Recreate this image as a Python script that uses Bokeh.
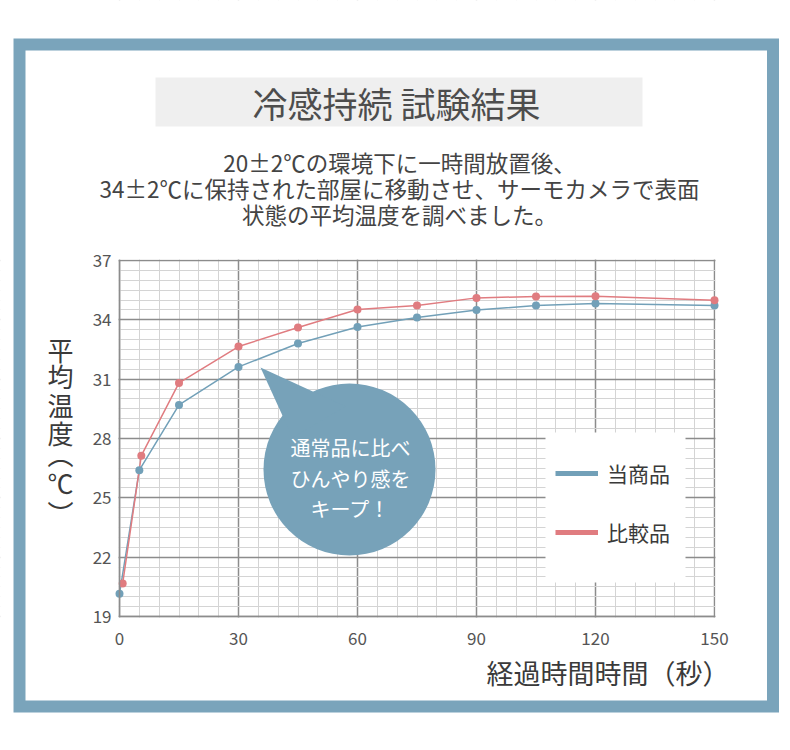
from bokeh.plotting import figure
from bokeh.models import (Range1d, FixedTicker, BoxAnnotation, Label, Legend, LegendItem,
                          Grid, LinearAxis)
from bokeh.embed import file_html
from bokeh.resources import INLINE

# ---------------- data ----------------
TIME_CURRENT = [0, 5, 15, 30, 45, 60, 75, 90, 105, 120, 150]
TEMP_CURRENT = [20.15, 26.4, 29.7, 31.62, 32.8, 33.64, 34.12, 34.5, 34.72, 34.82, 34.72]
TIME_COMPARE = [0.8, 5.5, 15, 30, 45, 60, 75, 90, 105, 120, 150]
TEMP_COMPARE = [20.67, 27.13, 30.81, 32.65, 33.61, 34.52, 34.72, 35.11, 35.18, 35.19, 34.99]
SERIES_NAMES = ["当商品", "比較品"]
X_TICKS = [0, 30, 60, 90, 120, 150]
Y_TICKS = [19, 22, 25, 28, 31, 34, 37]
X_MINOR_STEP = 5
Y_MINOR_STEP = 0.5

TITLE = "冷感持続 試験結果"
SUBTITLE = ["20±2℃の環境下に一時間放置後、",
            "34±2℃に保持された部屋に移動させ、サーモカメラで表面",
            "状態の平均温度を調べました。"]
CALLOUT = ["通常品に比べ", "ひんやり感を", "キープ！"]
Y_LABEL_CHARS = ["平", "均", "温", "度", "︵", "℃", "︶"]
X_LABEL = "経過時間時間（秒）"

FONT = "Noto Sans CJK JP"
BLUE = "#72a0b8"
RED = "#e07c80"
FRAME_BLUE = "#7aa4bb"
CALLOUT_BLUE = "#77a2b9"
GRID_DARK = "#8c8c8c"
GRID_LIGHT = "#d4d4d4"
TEXT = "#3a3a3a"

W, H = 790, 750
# chart region in canvas pixels
FL, FR, FT, FB = 119, 714, 260, 616
X0, X1 = X_TICKS[0], X_TICKS[-1]
Y0, Y1 = Y_TICKS[0], Y_TICKS[-1]
kx = (X1 - X0) / (FR - FL)
ky = (Y1 - Y0) / (FB - FT)
XS, XE = X0 - FL * kx, X1 + (W - FR) * kx
YS, YE = Y0 - (H - FB) * ky, Y1 + FT * ky

p = figure(width=W, height=H, output_backend="svg", toolbar_location=None, title=None,
           x_range=Range1d(XS, XE), y_range=Range1d(YS, YE),
           x_axis_type=None, y_axis_type=None,
           min_border=0, min_border_left=0, min_border_right=0,
           min_border_top=0, min_border_bottom=0)
p.background_fill_color = "white"
p.border_fill_color = "white"
p.outline_line_color = None


def dx(px):
    return XS + px * kx


def dy(py):
    return YE - py * ky


def frange(a, b, step):
    n = int(round((b - a) / step))
    return [a + i * step for i in range(n + 1)]


x_minor = [v for v in frange(X0, X1, X_MINOR_STEP) if v not in X_TICKS]
y_minor = [v for v in frange(Y0, Y1, Y_MINOR_STEP) if v not in Y_TICKS]

# grid
xgrid = Grid(dimension=0, ticker=FixedTicker(ticks=X_TICKS, minor_ticks=x_minor))
ygrid = Grid(dimension=1, ticker=FixedTicker(ticks=Y_TICKS, minor_ticks=y_minor))
for g in (xgrid, ygrid):
    g.grid_line_color = GRID_DARK
    g.grid_line_width = 1.5
    g.minor_grid_line_color = GRID_LIGHT
    g.minor_grid_line_width = 1
    p.add_layout(g, "center")

# white covers outside chart region (so grid stays inside)
far_l, far_r, far_t, far_b = dx(-50), dx(W + 50), dy(-50), dy(H + 50)
covers = [
    dict(left=far_l, right=far_r, bottom=dy(FT - 1), top=far_t),
    dict(left=far_l, right=far_r, top=dy(FB + 1), bottom=far_b),
    dict(left=far_l, right=dx(FL - 1), top=far_t, bottom=far_b),
    dict(left=dx(FR + 1), right=far_r, top=far_t, bottom=far_b),
]
for kw in covers:
    p.add_layout(BoxAnnotation(fill_color="white", fill_alpha=1, line_color=None,
                               level="underlay", **kw))

# axes
xaxis = LinearAxis(fixed_location=Y0, bounds=(X0, X1), ticker=FixedTicker(ticks=X_TICKS))
yaxis = LinearAxis(fixed_location=X0, bounds=(Y0, Y1), ticker=FixedTicker(ticks=Y_TICKS))
for ax in (xaxis, yaxis):
    ax.axis_line_color = GRID_DARK
    ax.axis_line_width = 1.5
    ax.major_tick_line_color = None
    ax.minor_tick_line_color = None
    ax.major_tick_out = 0
    ax.major_tick_in = 0
    ax.major_label_text_font = FONT
    ax.major_label_text_font_size = "17px"
    ax.major_label_text_color = "#555555"
xaxis.major_label_standoff = 15
yaxis.major_label_standoff = 8
p.add_layout(xaxis, "below")
p.add_layout(yaxis, "left")

# outer frame
p.add_layout(BoxAnnotation(left=dx(19), right=dx(772.5), top=dy(44), bottom=dy(706),
                           fill_alpha=0, line_color=FRAME_BLUE, line_alpha=1, line_width=12,
                           line_join="miter", level="underlay"))
# title box
p.add_layout(BoxAnnotation(left=dx(155), right=dx(642), top=dy(77), bottom=dy(126),
                           fill_color="#efefef", fill_alpha=1, line_color=None,
                           level="underlay"))
# legend box
p.add_layout(BoxAnnotation(left=dx(545), right=dx(685), top=dy(432), bottom=dy(582),
                           fill_color="white", fill_alpha=1, line_color=None,
                           level="underlay"))

# callout bubble (decoration)
p.scatter(x=[dx(349)], y=[dy(469)], size=172, marker="circle",
          fill_color=CALLOUT_BLUE, line_color=None)
p.patch(x=[dx(260), dx(292), dx(345)], y=[dy(367), dy(437), dy(406)],
        fill_color=CALLOUT_BLUE, line_color=None)

# data lines and points
p.line(TIME_CURRENT, TEMP_CURRENT, line_color=BLUE, line_width=1.5)
p.line(TIME_COMPARE, TEMP_COMPARE, line_color=RED, line_width=1.5)
p.scatter(TIME_CURRENT, TEMP_CURRENT, size=8, fill_color=BLUE, line_color=None)
p.scatter(TIME_COMPARE, TEMP_COMPARE, size=8, fill_color=RED, line_color=None)

# legend swatch renderers (thick lines, nothing drawn in the plot)
nan = float("nan")
lg_blue = p.line([nan, nan], [nan, nan], line_color=BLUE, line_width=5)
lg_red = p.line([nan, nan], [nan, nan], line_color=RED, line_width=5)

legend = Legend(items=[LegendItem(label=SERIES_NAMES[0], renderers=[lg_blue]),
                       LegendItem(label=SERIES_NAMES[1], renderers=[lg_red])],
                location=(555, H - 547), padding=0, margin=0,
                glyph_width=43, glyph_height=20, label_height=20, label_standoff=9,
                spacing=29, label_text_font=FONT, label_text_font_size="21px",
                label_text_color=TEXT, background_fill_alpha=0,
                border_line_color=None)
p.add_layout(legend)

# callout text
for i, t in enumerate(CALLOUT):
    p.add_layout(Label(x=dx(350), y=dy([447, 478, 508][i]), text=t, text_align="center",
                       text_baseline="middle", text_font=FONT, text_font_size="20px",
                       text_color="white"))

# title
p.add_layout(Label(x=dx(396), y=dy(102), text=TITLE, text_align="center",
                   text_baseline="middle", text_font=FONT, text_font_size="35px",
                   text_color="#4d4d4d"))

# subtitle
for i, t in enumerate(SUBTITLE):
    p.add_layout(Label(x=dx(399), y=dy([161, 187, 213][i]), text=t, text_align="center",
                       text_baseline="middle", text_font=FONT, text_font_size="22.5px",
                       text_color="#444444"))

# y-axis label (vertical, stacked characters)
for i, ch in enumerate(Y_LABEL_CHARS):
    p.add_layout(Label(x=dx(60), y=dy([349, 375, 404, 432, 453, 482, 512][i]), text=ch,
                       text_align="center", text_baseline="middle", text_font=FONT,
                       text_font_size="26px", text_color=TEXT))

# x-axis label
p.add_layout(Label(x=dx(486), y=dy(672), text=X_LABEL, text_align="left",
                   text_baseline="middle", text_font=FONT, text_font_size="27px",
                   text_color=TEXT))

open("out.html", "w").write(file_html(p, INLINE))
